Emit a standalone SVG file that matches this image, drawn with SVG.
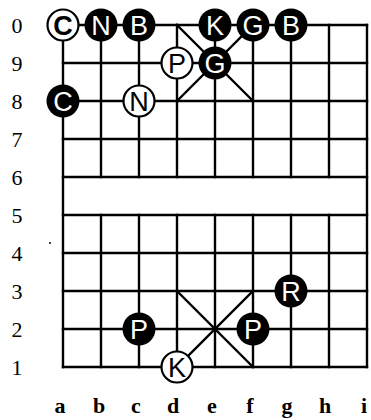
<svg xmlns="http://www.w3.org/2000/svg" width="371" height="420" viewBox="0 0 371 420">
<style>
.ln{stroke:#000;stroke-width:2.4;fill:none;stroke-linecap:square}
.bk{fill:#000}
.wh{fill:#fff;stroke:#000;stroke-width:2.2}
.tb{font-family:"Liberation Sans",Arial,sans-serif;font-size:27px;fill:#fff;text-anchor:middle}
.tw{font-family:"Liberation Sans",Arial,sans-serif;font-size:27px;fill:#000;text-anchor:middle}
.lab{font-family:"Liberation Serif","Times New Roman",serif;font-size:22px;fill:#000;text-anchor:middle}
</style>
<rect width="371" height="420" fill="#fff"/>
<g id="board" class="ln">
<path d="M63 25H367M63 63H367M63 101H367M63 139H367M63 177H367M63 215H367M63 253H367M63 291H367M63 329H367M63 367H367"/>
<path d="M63 25V367M367 25V367"/>
<path d="M101 25V177M139 25V177M177 25V177M215 25V177M253 25V177M291 25V177M329 25V177"/>
<path d="M101 215V367M139 215V367M177 215V367M215 215V367M253 215V367M291 215V367M329 215V367"/>
<path d="M177 25L253 101M253 25L177 101M177 291L253 367M253 291L177 367"/>
</g>
<circle cx="50" cy="243" r="1" fill="#000"/>
<g id="rows" class="lab">
<text x="17" y="33">0</text>
<text x="17" y="71">9</text>
<text x="17" y="109">8</text>
<text x="17" y="147">7</text>
<text x="17" y="185">6</text>
<text x="17" y="223">5</text>
<text x="17" y="261">4</text>
<text x="17" y="299">3</text>
<text x="17" y="337">2</text>
<text x="17" y="375">1</text>
</g>
<g id="cols" class="lab" font-weight="bold">
<text x="60" y="413">a</text>
<text x="99" y="413">b</text>
<text x="136" y="413">c</text>
<text x="173" y="413">d</text>
<text x="212" y="413">e</text>
<text x="250" y="413">f</text>
<text x="287" y="413">g</text>
<text x="325" y="413">h</text>
<text x="364" y="413">i</text>
</g>
<g id="pieces">
<g id="a0"><circle class="wh" cx="63" cy="25" r="15.5"/><text class="tw" x="63" y="35" font-weight="bold">C</text></g>
<g id="b0"><circle class="bk" cx="101" cy="25" r="16.5"/><text class="tb" x="101" y="35">N</text></g>
<g id="c0"><circle class="bk" cx="139" cy="25" r="16.5"/><text class="tb" x="139" y="35">B</text></g>
<g id="e0"><circle class="bk" cx="215" cy="25" r="16.5"/><text class="tb" x="215" y="35">K</text></g>
<g id="f0"><circle class="bk" cx="253" cy="25" r="16.5"/><text class="tb" x="253" y="35">G</text></g>
<g id="g0"><circle class="bk" cx="291" cy="25" r="16.5"/><text class="tb" x="291" y="35">B</text></g>
<g id="d9"><circle class="wh" cx="177" cy="63" r="15.5"/><text class="tw" x="177" y="73">P</text></g>
<g id="e9"><circle class="bk" cx="215" cy="63" r="16.5"/><text class="tb" x="215" y="73">G</text></g>
<g id="a8"><circle class="bk" cx="63" cy="101" r="16.5"/><text class="tb" x="63" y="111">C</text></g>
<g id="c8"><circle class="wh" cx="139" cy="101" r="15.5"/><text class="tw" x="139" y="111">N</text></g>
<g id="g3"><circle class="bk" cx="291" cy="291" r="16.5"/><text class="tb" x="291" y="301">R</text></g>
<g id="c2"><circle class="bk" cx="139" cy="329" r="16.5"/><text class="tb" x="139" y="339">P</text></g>
<g id="f2"><circle class="bk" cx="253" cy="329" r="16.5"/><text class="tb" x="253" y="339">P</text></g>
<g id="d1"><circle class="wh" cx="177" cy="367" r="15.5"/><text class="tw" x="177" y="377">K</text></g>
</g>
</svg>
